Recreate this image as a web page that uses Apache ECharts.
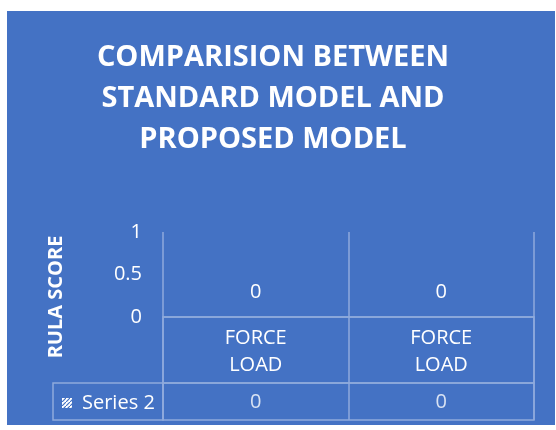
<!DOCTYPE html>
<html>
<head>
<meta charset="utf-8">
<script src="https://cdn.jsdelivr.net/npm/echarts@6/dist/echarts.min.js"></script>
<style>
  html, body {margin: 0; padding: 0; background: #fff;}
  #chart {position: absolute; left: 7px; top: 11px; width: 548px; height: 414px;}
</style>
</head>
<body>
<div id="chart"></div>
<script>
const titleText = "COMPARISION BETWEEN\nSTANDARD MODEL AND\nPROPOSED MODEL";
const categories = ["FORCE\nLOAD", "FORCE\nLOAD"];
const seriesName = "Series 2";
const series2 = [0, 0];
const yMin = 0;
const yMax = 1;
const yStep = 0.5;

const FONT = "Open Sans";
const LINE = "#8faadc";

// little hatched swatch like the office "dark upward diagonal" fill
function hatch() {
  const c = document.createElement("canvas");
  c.width = 4;
  c.height = 4;
  const g = c.getContext("2d");
  g.fillStyle = "#ffffff";
  g.fillRect(0, 0, 4, 4);
  g.strokeStyle = "#4472c4";
  g.lineWidth = 1.2;
  g.beginPath();
  g.moveTo(0, 4);
  g.lineTo(4, 0);
  g.stroke();
  return c;
}

const chart = echarts.init(document.getElementById("chart"));

const tableAxis = (gridIndex) => ({
  type: "category",
  gridIndex: gridIndex,
  data: categories,
  axisLine: {show: false},
  axisTick: {show: false},
  axisLabel: {show: false},
  splitLine: {show: true, lineStyle: {color: LINE, width: 1.5}},
});

const hiddenY = (gridIndex, min, max) => ({
  type: "value",
  gridIndex: gridIndex,
  min: min,
  max: max,
  show: false,
});

const option = {
  backgroundColor: "#4472c4",
  animation: false,
  title: {
    text: titleText,
    left: 261,
    top: 21,
    textAlign: "center",
    textStyle: {
      color: "#ffffff",
      fontFamily: FONT,
      fontWeight: "bold",
      fontSize: 29,
      lineHeight: 41,
    },
  },
  legend: {
    data: [seriesName],
    left: 55,
    top: 381,
    padding: 0,
    selectedMode: false,
    itemWidth: 10,
    itemHeight: 10,
    icon: "rect",
    textStyle: {color: "#ffffff", fontFamily: FONT, fontSize: 20, lineHeight: 22, padding: [0, 0, 0, 5]},
  },
  grid: [
    {left: 156, top: 221, right: 21, height: 85, show: false},
    {left: 156, top: 306, right: 21, height: 66, show: true, borderColor: LINE, borderWidth: 1.5, backgroundColor: "transparent"},
    {left: 156, top: 372, right: 21, height: 37, show: true, borderColor: LINE, borderWidth: 1.5, backgroundColor: "transparent"},
    {left: 46, top: 372, width: 110, height: 37, show: true, borderColor: LINE, borderWidth: 1.5, backgroundColor: "transparent"},
  ],
  xAxis: [
    {
      type: "category",
      gridIndex: 0,
      data: categories,
      axisLine: {show: true, lineStyle: {color: LINE, width: 1.5}},
      axisTick: {show: false},
      axisLabel: {
        interval: 0,
        margin: 8,
        color: "#ffffff",
        fontFamily: FONT,
        fontSize: 20,
        lineHeight: 27,
      },
      splitLine: {show: true, lineStyle: {color: LINE, width: 1.5}},
    },
    tableAxis(1),
    tableAxis(2),
  ],
  yAxis: [
    {
      type: "value",
      gridIndex: 0,
      min: yMin,
      max: yMax,
      interval: yStep,
      axisLine: {show: false},
      axisTick: {show: false},
      splitLine: {show: false},
      axisLabel: {margin: 21, color: "#ffffff", fontFamily: FONT, fontSize: 20},
      name: "RULA SCORE",
      nameLocation: "middle",
      nameGap: 97,
      nameTextStyle: {
        color: "#ffffff",
        fontFamily: FONT,
        fontWeight: "bold",
        fontSize: 20,
        padding: [0, 45, 0, 0],
      },
    },
    hiddenY(1, 0, 1),
    hiddenY(2, -1, 1),
  ],
  series: [
    {
      name: seriesName,
      type: "bar",
      xAxisIndex: 0,
      yAxisIndex: 0,
      data: series2,
      itemStyle: {color: {image: hatch(), repeat: "repeat"}},
      label: {
        show: true,
        position: "top",
        distance: 15,
        color: "#ffffff",
        fontFamily: FONT,
        fontSize: 20,
      },
    },
    {
      name: seriesName,
      type: "scatter",
      xAxisIndex: 2,
      yAxisIndex: 2,
      data: series2,
      symbolSize: 1,
      itemStyle: {color: "transparent"},
      label: {
        show: true,
        position: "inside",
        offset: [0, 1],
        color: "#ffffff",
        fontFamily: FONT,
        fontSize: 20,
      },
    },
  ],
};

chart.setOption(option);
</script>
</body>
</html>
